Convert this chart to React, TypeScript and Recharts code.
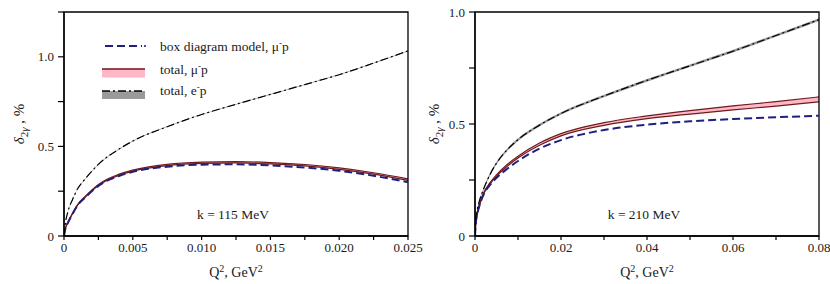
import { ComposedChart, Line, Area, XAxis, YAxis, ReferenceArea } from "recharts";

// k = 115 MeV panel
const q2Left = [0, 0.0001, 0.0003, 0.0006, 0.001, 0.0015, 0.0025, 0.004, 0.005, 0.0075, 0.01, 0.0125, 0.015, 0.0175, 0.02, 0.0225, 0.025];
const boxLeft = [0, 0.04, 0.076, 0.12, 0.172, 0.212, 0.28, 0.335, 0.358, 0.387, 0.398, 0.4, 0.394, 0.382, 0.364, 0.336, 0.3];
const muLowLeft = [0, 0.04, 0.077, 0.121, 0.173, 0.213, 0.282, 0.339, 0.362, 0.393, 0.405, 0.408, 0.402, 0.391, 0.372, 0.345, 0.31];
const muHighLeft = [0, 0.042, 0.08, 0.125, 0.177, 0.218, 0.288, 0.345, 0.368, 0.4, 0.412, 0.415, 0.41, 0.399, 0.38, 0.353, 0.319];
const epLeft = [0, 0.07, 0.14, 0.2, 0.265, 0.315, 0.4, 0.485, 0.53, 0.61, 0.678, 0.735, 0.79, 0.845, 0.9, 0.965, 1.033];
const epLowLeft = [0, 0.068, 0.138, 0.198, 0.263, 0.313, 0.398, 0.483, 0.528, 0.608, 0.676, 0.733, 0.788, 0.843, 0.898, 0.963, 1.031];
const epHighLeft = [0, 0.072, 0.142, 0.202, 0.267, 0.317, 0.402, 0.487, 0.532, 0.612, 0.68, 0.737, 0.792, 0.847, 0.902, 0.967, 1.035];

// k = 210 MeV panel
const q2Right = [0, 0.0002, 0.0005, 0.001, 0.002, 0.0035, 0.005, 0.0075, 0.01, 0.015, 0.02, 0.03, 0.04, 0.05, 0.06, 0.07, 0.08];
const boxRight = [0, 0.06, 0.095, 0.133, 0.185, 0.228, 0.26, 0.3, 0.335, 0.39, 0.428, 0.473, 0.497, 0.512, 0.522, 0.53, 0.537];
const muLowRight = [0, 0.059, 0.093, 0.133, 0.187, 0.232, 0.267, 0.311, 0.348, 0.405, 0.447, 0.494, 0.524, 0.544, 0.563, 0.58, 0.599];
const muHighRight = [0, 0.061, 0.097, 0.137, 0.193, 0.238, 0.273, 0.319, 0.356, 0.415, 0.457, 0.506, 0.536, 0.56, 0.581, 0.6, 0.621];
const epRight = [0, 0.075, 0.115, 0.155, 0.21, 0.275, 0.325, 0.385, 0.43, 0.495, 0.547, 0.625, 0.695, 0.76, 0.825, 0.895, 0.966];
const epLowRight = [0, 0.07, 0.11, 0.15, 0.205, 0.269, 0.319, 0.379, 0.424, 0.489, 0.541, 0.619, 0.689, 0.754, 0.819, 0.889, 0.96];
const epHighRight = [0, 0.08, 0.12, 0.16, 0.215, 0.281, 0.331, 0.391, 0.436, 0.501, 0.553, 0.631, 0.701, 0.766, 0.831, 0.901, 0.972];

const xTicksLeft = [0, 0.0025, 0.005, 0.0075, 0.01, 0.0125, 0.015, 0.0175, 0.02, 0.0225, 0.025];
const xLabelsLeft = ["0", "", "0.005", "", "0.010", "", "0.015", "", "0.020", "", "0.025"];
const yTicksLeft = [0, 0.25, 0.5, 0.75, 1.0, 1.25];
const yLabelsLeft = ["0", "", "0.5", "", "1.0", ""];

const xTicksRight = [0, 0.01, 0.02, 0.03, 0.04, 0.05, 0.06, 0.07, 0.08];
const xLabelsRight = ["0", "", "0.02", "", "0.04", "", "0.06", "", "0.08"];
const yTicksRight = [0, 0.25, 0.5, 0.75, 1.0];
const yLabelsRight = ["0", "", "0.5", "", "1.0"];

const FONT = "Liberation Serif, DejaVu Serif, serif";
const NAVY = "#1f1f80";
const BROWN = "#6e1a1a";
const PINK = "#ffb6c8";
const GRAY = "#9a9a9a";
const INK = "#1a1a1a";

function buildRows(q2: number[], box: number[], muLo: number[], muHi: number[], ep: number[], epLo: number[], epHi: number[]) {
  return q2.map((q, i) => ({
    q,
    box: box[i],
    mu: [muLo[i], muHi[i]],
    ep: ep[i],
    epBand: [epLo[i], epHi[i]],
  }));
}

const rowsLeft = buildRows(q2Left, boxLeft, muLowLeft, muHighLeft, epLeft, epLowLeft, epHighLeft);
const rowsRight = buildRows(q2Right, boxRight, muLowRight, muHighRight, epRight, epLowRight, epHighRight);

/* eslint-disable @typescript-eslint/no-explicit-any */
const XTitle = ({ viewBox }: any) => {
  const cx = viewBox.x + viewBox.width / 2;
  const y = viewBox.y + 41;
  return (
    <text x={cx} y={y} textAnchor="middle" style={{ fontFamily: FONT }} fontSize={14} fill={INK}>
      Q<tspan dy={-5} fontSize={10}>2</tspan>
      <tspan dy={5}>, GeV</tspan>
      <tspan dy={-5} fontSize={10}>2</tspan>
    </text>
  );
};

const YTitle = ({ viewBox }: any) => {
  const cx = viewBox.x + 24;
  const cy = viewBox.y + viewBox.height / 2;
  return (
    <text transform={`translate(${cx},${cy}) rotate(-90)`} textAnchor="middle" style={{ fontFamily: FONT }} fontSize={15} fill={INK}>
      <tspan fontStyle="italic">δ</tspan>
      <tspan fontSize={11} dy={4}>2</tspan>
      <tspan fontSize={11} fontStyle="italic">γ</tspan>
      <tspan dy={-4}> ,  %</tspan>
    </text>
  );
};
/* eslint-enable @typescript-eslint/no-explicit-any */

interface PanelProps {
  rows: ReturnType<typeof buildRows>;
  xMax: number;
  yMax: number;
  xTicks: number[];
  xLabels: string[];
  yTicks: number[];
  yLabels: string[];
  yWidth: number;
  width: number;
  right: number;
}

function Panel({ rows, xMax, yMax, xTicks, xLabels, yTicks, yLabels, yWidth, width, right }: PanelProps) {
  const tickStyle = { fontFamily: FONT, fontSize: 13, fill: INK, style: { fontFamily: FONT } };
  return (
    <ComposedChart width={width} height={284} data={rows} margin={{ top: 12, right, bottom: 8, left: 0 }} style={{ fontFamily: FONT }}>
      <XAxis
        dataKey="q"
        type="number"
        domain={[0, xMax]}
        ticks={xTicks}
        interval={0}
        tickFormatter={(_v: number, i: number) => xLabels[i]}
        tickSize={4}
        tickMargin={3}
        height={40}
        stroke="#000"
        axisLine={{ stroke: "#000", strokeWidth: 1.3 }}
        tickLine={{ stroke: "#000", strokeWidth: 1.2 }}
        tick={tickStyle}
        label={<XTitle />}
        allowDataOverflow
      />
      <YAxis
        type="number"
        domain={[0, yMax]}
        ticks={yTicks}
        interval={0}
        tickFormatter={(_v: number, i: number) => yLabels[i]}
        tickSize={6}
        tickMargin={4}
        width={yWidth}
        stroke="#000"
        axisLine={{ stroke: "#000", strokeWidth: 1.3 }}
        tickLine={{ stroke: "#000", strokeWidth: 1.2 }}
        tick={tickStyle}
        label={<YTitle />}
        allowDataOverflow
      />
      <Line dataKey="box" type="monotone" stroke={NAVY} strokeWidth={2} strokeDasharray="8 4" dot={false} isAnimationActive={false} />
      <Area dataKey="mu" type="monotone" stroke={BROWN} strokeWidth={1.2} fill={PINK} fillOpacity={1} isAnimationActive={false} />
      <Area dataKey="epBand" type="monotone" stroke="none" fill={GRAY} fillOpacity={1} isAnimationActive={false} />
      <Line dataKey="ep" type="monotone" stroke="#000" strokeWidth={1.2} strokeDasharray="8 3 2 3" dot={false} isAnimationActive={false} />
      <ReferenceArea x1={0} x2={xMax} y1={0} y2={yMax} fill="none" stroke="#000" strokeWidth={1.3} ifOverflow="visible" />
    </ComposedChart>
  );
}

export default function App() {
  return (
    <div style={{ position: "absolute", left: 0, top: 0, width: 830, height: 284, background: "#fff", fontFamily: FONT, overflow: "hidden" }}>
      <div style={{ position: "absolute", left: 415, top: 0 }}>
        <Panel rows={rowsRight} xMax={0.08} yMax={1.0} xTicks={xTicksRight} xLabels={xLabelsRight} yTicks={yTicksRight} yLabels={yLabelsRight} yWidth={60} width={415} right={11} />
      </div>
      <div style={{ position: "absolute", left: 0, top: 0 }}>
        <Panel rows={rowsLeft} xMax={0.025} yMax={1.25} xTicks={xTicksLeft} xLabels={xLabelsLeft} yTicks={yTicksLeft} yLabels={yLabelsLeft} yWidth={64} width={430} right={22} />
      </div>
      <svg width={830} height={284} style={{ position: "absolute", left: 0, top: 0, pointerEvents: "none", fontFamily: FONT }} fill={INK}>
        <line x1={105} x2={142} y1={46} y2={46} stroke={NAVY} strokeWidth={2} strokeDasharray="8 4" />
        <circle cx={145} cy={46} r={1.1} fill={NAVY} />
        <text x={160} y={50.5} fontSize={13.5}>
          box diagram model, μ<tspan dy={-5} fontSize={9}>-</tspan><tspan dy={5}>p</tspan>
        </text>
        <rect x={102} y={68.5} width={43} height={9} fill={PINK} />
        <line x1={102} x2={145} y1={69} y2={69} stroke={BROWN} strokeWidth={1.5} />
        <text x={160} y={74} fontSize={13.5}>
          total, μ<tspan dy={-5} fontSize={9}>-</tspan><tspan dy={5}>p</tspan>
        </text>
        <rect x={102} y={91} width={43} height={8} fill={GRAY} />
        <line x1={102} x2={145} y1={91} y2={91} stroke="#000" strokeWidth={1.3} strokeDasharray="8 3 2 3" />
        <text x={160} y={95} fontSize={13.5}>
          total, e<tspan dy={-5} fontSize={9}>-</tspan><tspan dy={5}>p</tspan>
        </text>
        <text x={233} y={219} fontSize={13.5} textAnchor="middle">k = 115 MeV</text>
        <text x={644} y={219} fontSize={13.5} textAnchor="middle">k = 210 MeV</text>
      </svg>
    </div>
  );
}
